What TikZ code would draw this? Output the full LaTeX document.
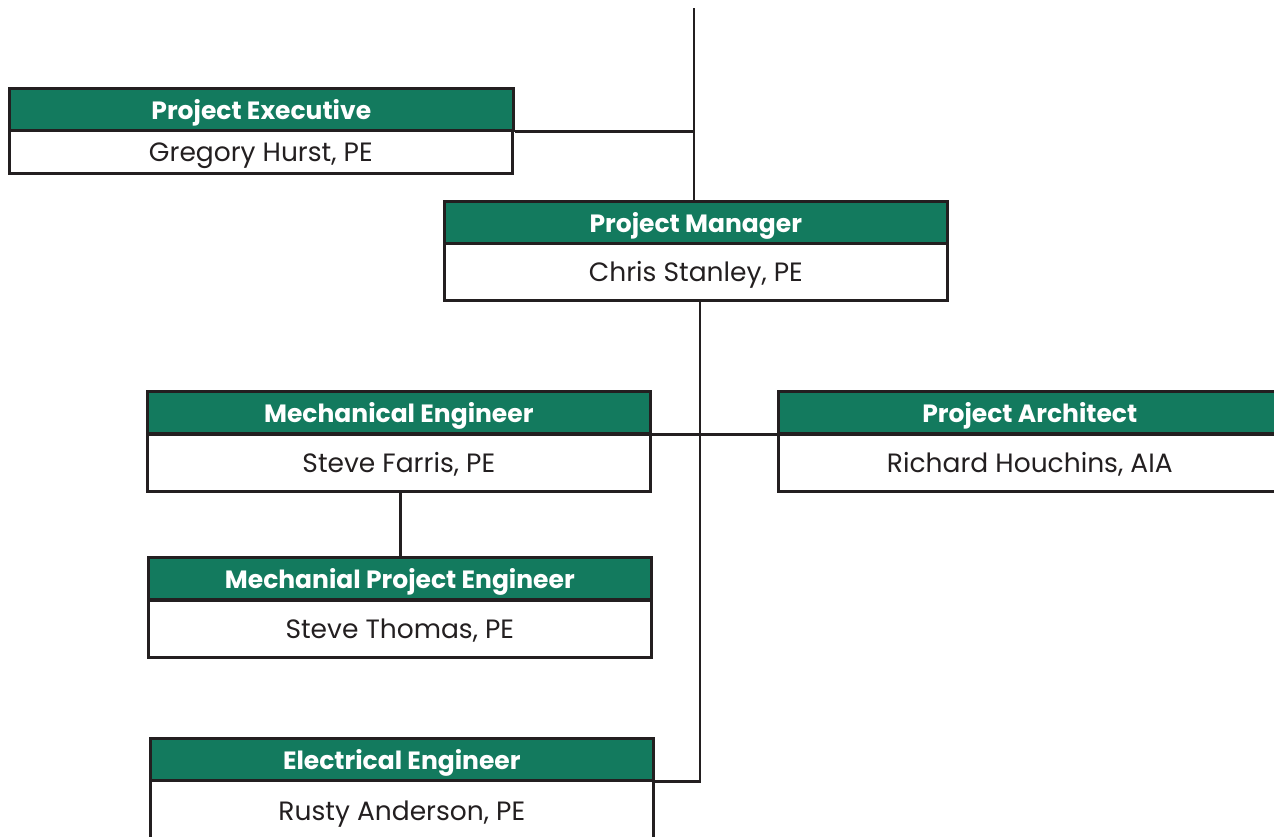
\documentclass[tikz,border=0pt]{standalone}
\usepackage{fontspec}
\setmainfont{Poppins}
\definecolor{hdrgreen}{HTML}{137A5E}
\definecolor{ink}{HTML}{231F20}
\tikzset{
  box/.style={draw=ink, line width=2.6pt, minimum width=503pt, anchor=north west, inner sep=0pt, text=ink, text height=21pt, text depth=1.4pt},
  hdr/.style={box, fill=hdrgreen, minimum height=42pt, text=white, font=\fontsize{25}{28}\selectfont\bfseries},
  nm/.style={box, fill=white, minimum height=57pt, font=\fontsize{26.5}{30}\selectfont},
  nmlow/.style={box, fill=white, minimum height=43pt, font=\fontsize{26.5}{30}\selectfont},
  conn/.style={draw=ink, line width=2.6pt}
}
\begin{document}
\begin{tikzpicture}[x=1pt,y=-1pt]
\useasboundingbox (0,0) rectangle (1274,836);
\clip (0,0) rectangle (1274,836);
\fill[white] (0,0) rectangle (1274,836);
\coordinate (top) at (694,8);
% connectors
\draw[conn] (top) -- (694,200);
% Project Executive
\node[nmlow] (pen) at (8,129) {Gregory Hurst, PE};
\node[hdr, minimum width=504pt] (peh) at (8,87) {Project Executive};
% Project Manager
\node[nm] (pmn) at (443,242) {Chris Stanley, PE};
\node[hdr] (pmh) at (443,200) {Project Manager};
% Mechanical Engineer
\node[nm] (men) at (146,433) {Steve Farris, PE};
\node[hdr] (meh) at (146,390) {Mechanical Engineer};
% Project Architect
\node[nm] (pan) at (777,433) {Richard Houchins, AIA};
\node[hdr] (pah) at (777,390) {Project Architect};
% Mechanial Project Engineer
\node[nm] (mpn) at (147,599) {Steve Thomas, PE};
\node[hdr] (mph) at (147,556) {Mechanial Project Engineer};
% Electrical Engineer
\node[nm, minimum height=60pt] (een) at (149,779) {Rusty Anderson, PE};
\node[hdr] (eeh) at (149,737) {Electrical Engineer};
% connectors
\draw[conn] (peh.south east) -- (peh.south east -| top);
\coordinate (spine) at ([xshift=4pt]pmn.south);
\draw[conn] (spine) -- (spine |- eeh.south) -- (eeh.south east);
\draw[conn] (meh.south east) -- (pah.south west);
\draw[conn] ([xshift=1.5pt]men.south) -- ([xshift=1.5pt]men.south |- mph.north);
\end{tikzpicture}
\end{document}
